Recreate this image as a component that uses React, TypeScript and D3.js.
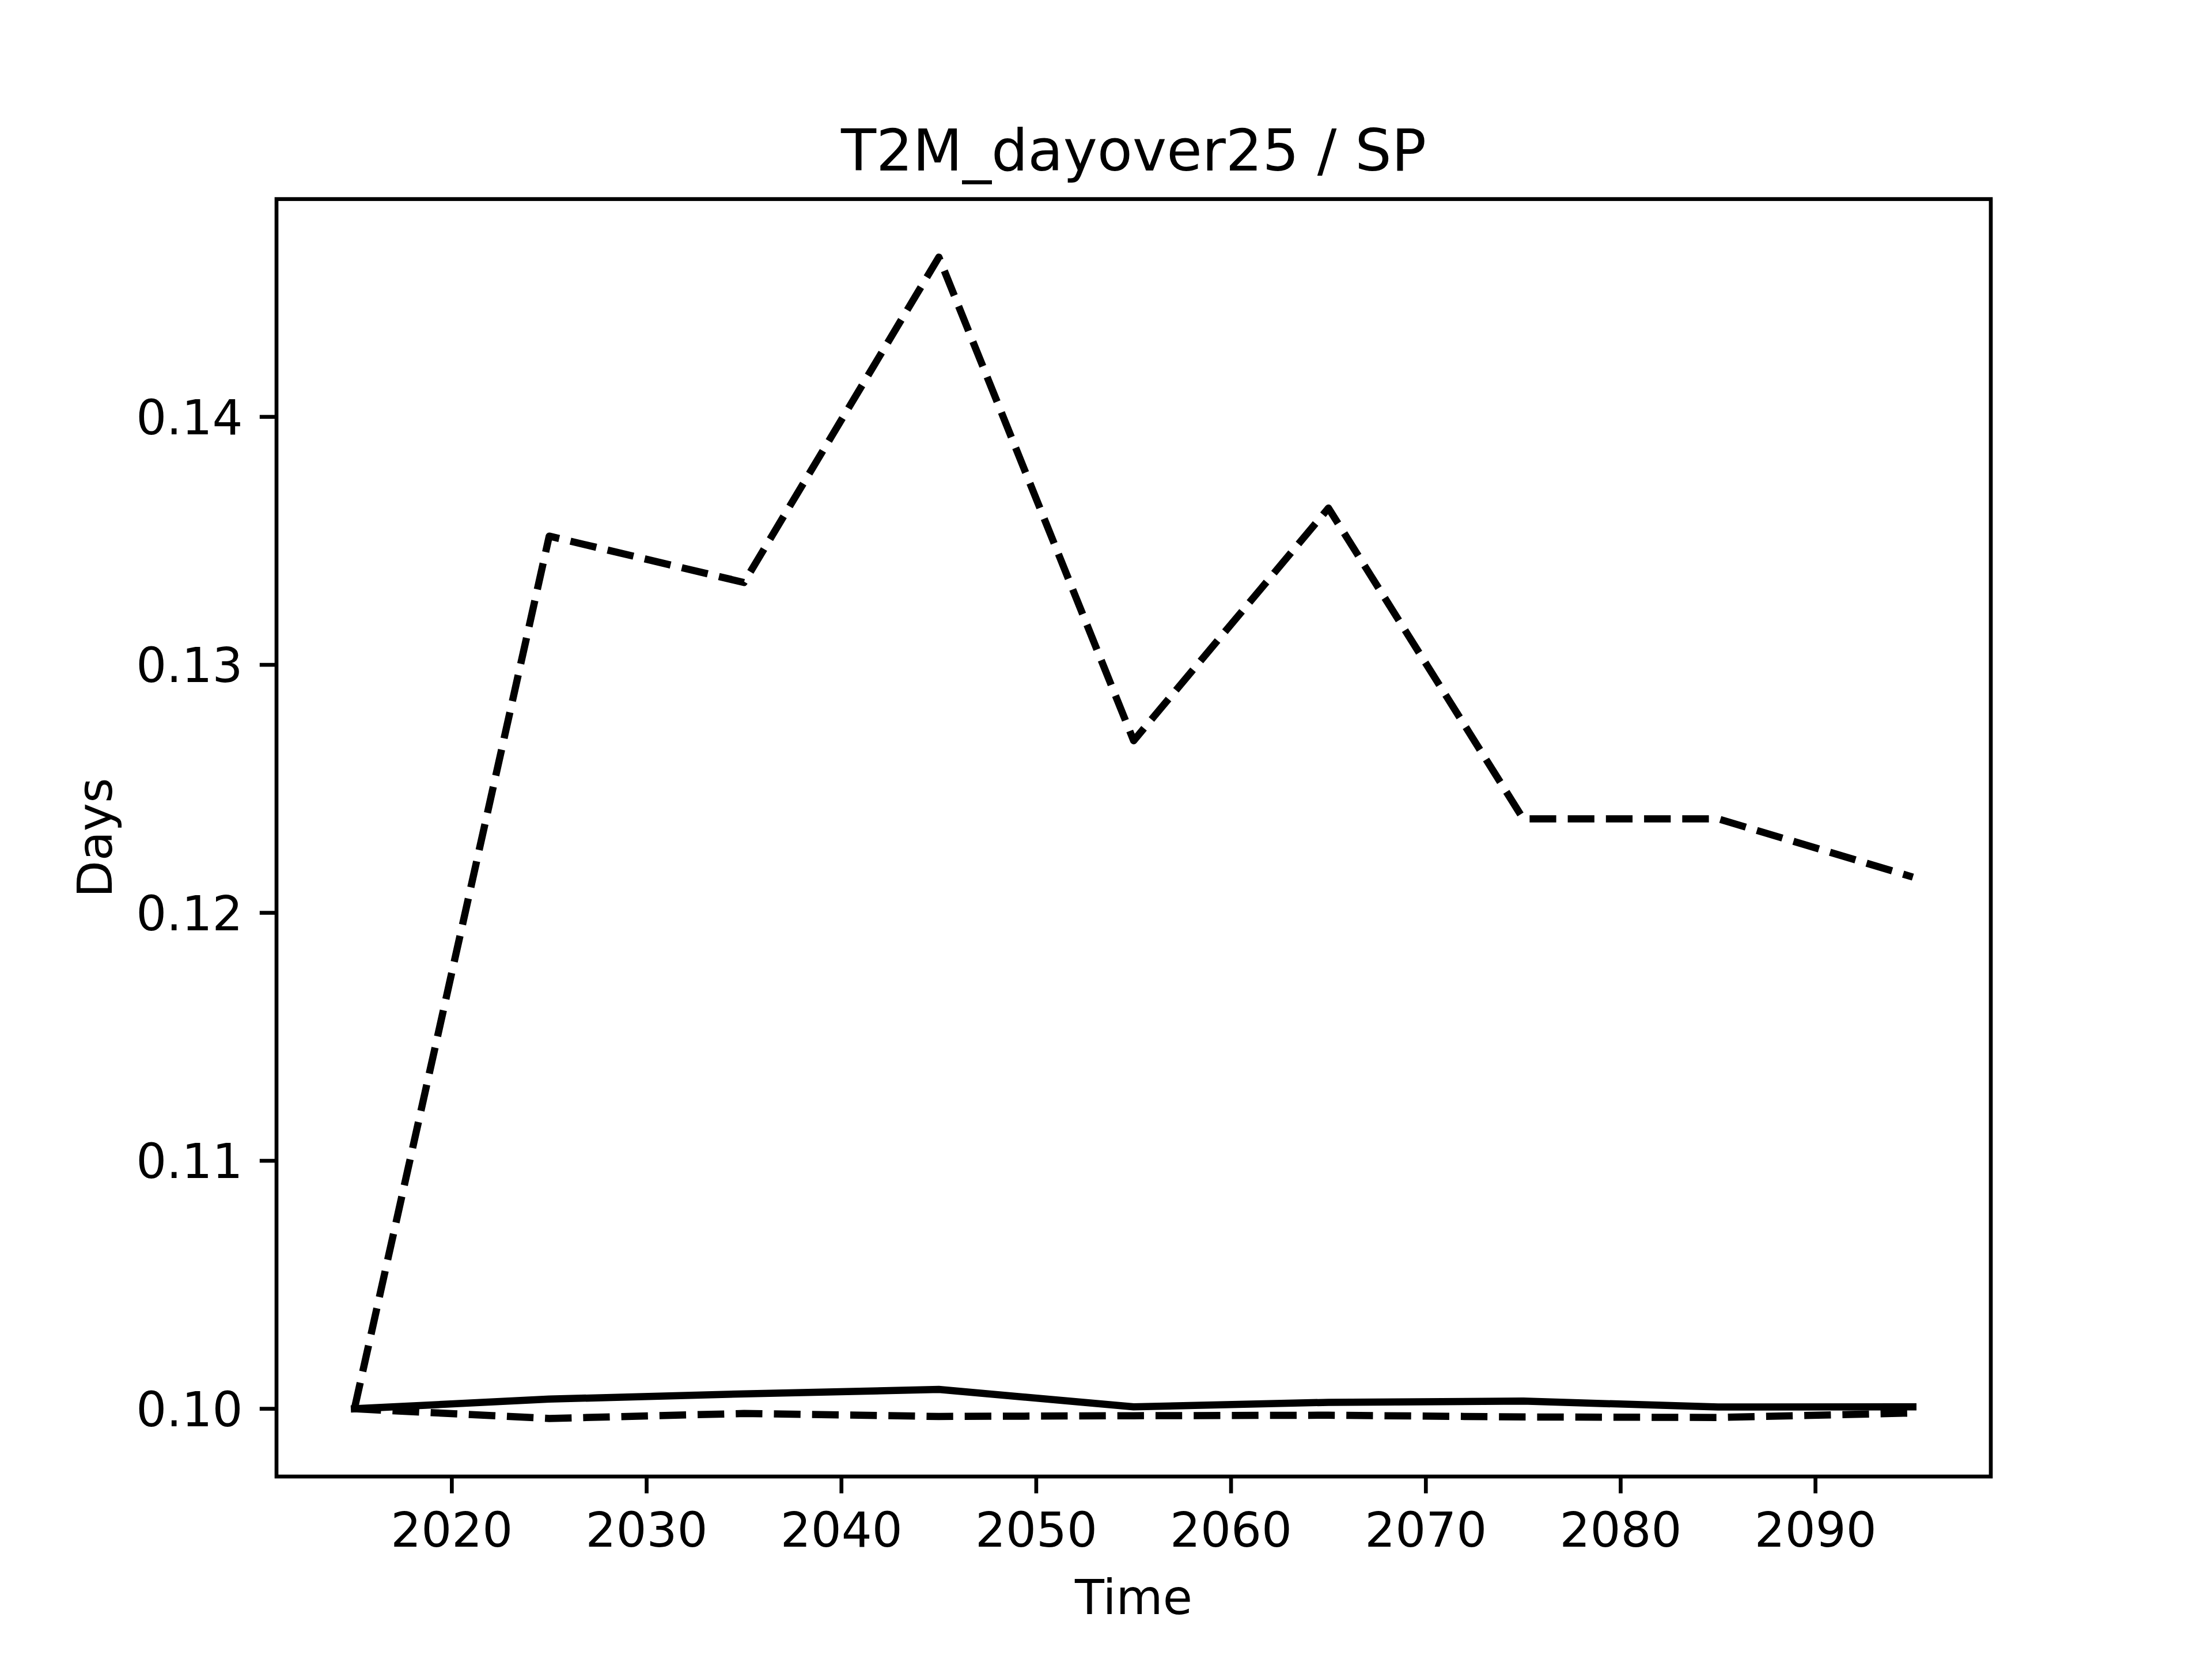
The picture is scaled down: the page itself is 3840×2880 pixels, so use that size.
import React, { useEffect } from "react";
import * as d3 from "d3";

const years = [2015, 2025, 2035, 2045, 2055, 2065, 2075, 2085, 2095];
const meanSeries = [0.1, 0.10039, 0.1006, 0.10078, 0.10008, 0.10026, 0.10031, 0.10007, 0.10008];
const upperSeries = [0.1, 0.13519, 0.13332, 0.14644, 0.12694, 0.13632, 0.12379, 0.12379, 0.12144];
const lowerSeries = [0.1, 0.09961, 0.09981, 0.09969, 0.09972, 0.09974, 0.09967, 0.09965, 0.09983];
const xTicks = [2020, 2030, 2040, 2050, 2060, 2070, 2080, 2090];
const yTicks = [0.1, 0.11, 0.12, 0.13, 0.14];
const titleText = "T2M_dayover25 / SP";
const xLabelText = "Time";
const yLabelText = "Days";

const W = 3840;
const H = 2880;
const L = 480;
const R = 3456;
const T = 345.6;
const B = 2563.2;
const FONT = "DejaVu Sans";
const LW = 12.5;
const SPINE = 6.67;
const TICKLEN = 29.2;
const PAD = 29.2;
const FS = 83.3;

export default function App() {
  useEffect(() => {
    document.body.style.margin = "0";
  }, []);

  const all = [...meanSeries, ...upperSeries, ...lowerSeries];
  const ymin = d3.min(all) as number;
  const ymax = d3.max(all) as number;
  const yr = ymax - ymin;
  const x = d3.scaleLinear().domain([2011, 2099]).range([L, R]);
  const y = d3
    .scaleLinear()
    .domain([ymin - 0.05 * yr, ymax + 0.05 * yr])
    .range([B, T]);

  const line = d3
    .line<number>()
    .x((_, i) => x(years[i]))
    .y((d) => y(d));

  const dash = `${3.7 * LW} ${1.6 * LW}`;

  return (
    <svg
      width={W}
      height={H}
      viewBox={`0 0 ${W} ${H}`}
      style={{ position: "absolute", left: 0, top: 0, display: "block", background: "#fff" }}
    >
      <rect x={0} y={0} width={W} height={H} fill="#fff" />
      <path d={line(meanSeries) || ""} fill="none" stroke="#000" strokeWidth={LW} strokeLinejoin="round" strokeLinecap="square" />
      <path d={line(upperSeries) || ""} fill="none" stroke="#000" strokeWidth={LW} strokeLinejoin="round" strokeLinecap="butt" strokeDasharray={dash} />
      <path d={line(lowerSeries) || ""} fill="none" stroke="#000" strokeWidth={LW} strokeLinejoin="round" strokeLinecap="butt" strokeDasharray={dash} />

      <rect x={L} y={T} width={R - L} height={B - T} fill="none" stroke="#000" strokeWidth={SPINE} strokeLinejoin="miter" />

      {xTicks.map((t) => (
        <g key={`x${t}`}>
          <line x1={x(t)} x2={x(t)} y1={B} y2={B + TICKLEN} stroke="#000" strokeWidth={SPINE} />
          <text x={x(t)} y={B + TICKLEN + PAD + FS * 0.76} fontFamily={FONT} fontSize={FS} textAnchor="middle" fill="#000">
            {t}
          </text>
        </g>
      ))}
      {yTicks.map((t) => (
        <g key={`y${t}`}>
          <line x1={L - TICKLEN} x2={L} y1={y(t)} y2={y(t)} stroke="#000" strokeWidth={SPINE} />
          <text x={L - TICKLEN - PAD} y={y(t) + FS * 0.364} fontFamily={FONT} fontSize={FS} textAnchor="end" fill="#000">
            {t.toFixed(2)}
          </text>
        </g>
      ))}

      <text x={(L + R) / 2} y={T - 50} fontFamily={FONT} fontSize={100} textAnchor="middle" fill="#000">
        {titleText}
      </text>
      <text x={(L + R) / 2} y={2802} fontFamily={FONT} fontSize={FS} textAnchor="middle" fill="#000">
        {xLabelText}
      </text>
      <text
        transform={`translate(194, ${(T + B) / 2}) rotate(-90)`}
        fontFamily={FONT}
        fontSize={FS}
        textAnchor="middle"
        fill="#000"
      >
        {yLabelText}
      </text>
    </svg>
  );
}
